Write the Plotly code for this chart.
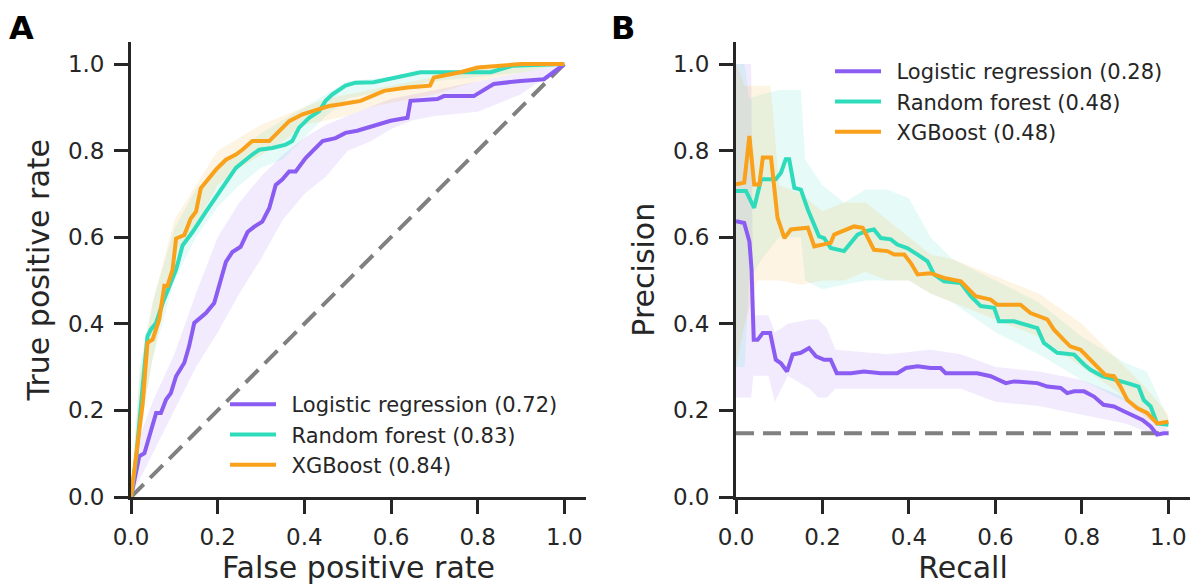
import plotly.graph_objects as go

# ---------------- Panel A: ROC curves ----------------
roc_lr_fpr = [0, 0.012, 0.019, 0.031, 0.042, 0.058, 0.069, 0.081, 0.092, 0.104, 0.123, 0.134, 0.146,
              0.173, 0.192, 0.204, 0.215, 0.219, 0.234, 0.253, 0.269, 0.284, 0.303, 0.319, 0.334,
              0.349, 0.365, 0.38, 0.403, 0.426, 0.442, 0.472, 0.495, 0.522, 0.561, 0.599, 0.638,
              0.645, 0.707, 0.722, 0.791, 0.837, 0.899, 0.953, 1.0]
roc_lr_tpr = [0, 0.063, 0.094, 0.101, 0.14, 0.194, 0.194, 0.225, 0.24, 0.279, 0.31, 0.348, 0.402,
              0.425, 0.448, 0.487, 0.525, 0.543, 0.566, 0.578, 0.612, 0.624, 0.636, 0.667, 0.721,
              0.733, 0.752, 0.752, 0.783, 0.806, 0.822, 0.829, 0.841, 0.846, 0.857, 0.869, 0.876,
              0.915, 0.919, 0.926, 0.926, 0.954, 0.961, 0.965, 1.0]

roc_rf_fpr = [0, 0.012, 0.027, 0.038, 0.046, 0.058, 0.073, 0.088, 0.104, 0.119, 0.142, 0.173, 0.211,
              0.242, 0.28, 0.296, 0.326, 0.357, 0.372, 0.388, 0.411, 0.434, 0.449, 0.465, 0.495,
              0.518, 0.56, 0.668, 0.714, 0.83, 0.88, 1.0]
roc_rf_tpr = [0, 0.09, 0.256, 0.371, 0.387, 0.402, 0.448, 0.488, 0.525, 0.581, 0.612, 0.659, 0.713,
              0.76, 0.791, 0.802, 0.806, 0.814, 0.822, 0.853, 0.876, 0.891, 0.915, 0.93, 0.95,
              0.957, 0.958, 0.981, 0.981, 0.981, 0.996, 1.0]

roc_xgb_fpr = [0, 0.012, 0.027, 0.038, 0.05, 0.065, 0.077, 0.084, 0.096, 0.104, 0.123, 0.138, 0.15,
               0.161, 0.177, 0.196, 0.219, 0.242, 0.257, 0.28, 0.319, 0.349, 0.365, 0.396, 0.419,
               0.457, 0.484, 0.53, 0.584, 0.638, 0.69, 0.699, 0.76, 0.8, 0.9, 1.0]
roc_xgb_tpr = [0, 0.094, 0.216, 0.356, 0.364, 0.41, 0.488, 0.487, 0.525, 0.597, 0.605, 0.643, 0.659,
               0.713, 0.733, 0.756, 0.779, 0.791, 0.802, 0.822, 0.822, 0.853, 0.868, 0.884, 0.891,
               0.903, 0.907, 0.915, 0.938, 0.946, 0.95, 0.969, 0.981, 0.992, 1.0, 1.0]

# confidence bands (ROC)
roc_band_x = [0, 0.02, 0.05, 0.1, 0.15, 0.2, 0.25, 0.3, 0.35, 0.4, 0.45, 0.5, 0.55, 0.6, 0.65, 0.7, 0.8, 0.9, 1.0]
roc_lr_lo = [0, 0.04, 0.1, 0.2, 0.3, 0.38, 0.47, 0.55, 0.64, 0.7, 0.74, 0.8, 0.82, 0.85, 0.87, 0.88, 0.89, 0.93, 1.0]
roc_lr_hi = [0, 0.14, 0.22, 0.33, 0.47, 0.6, 0.68, 0.74, 0.79, 0.83, 0.86, 0.88, 0.9, 0.92, 0.93, 0.94, 0.96, 0.98, 1.0]
roc_rf_lo = [0, 0.15, 0.32, 0.5, 0.6, 0.67, 0.72, 0.76, 0.78, 0.83, 0.88, 0.92, 0.93, 0.94, 0.95, 0.96, 0.97, 0.98, 1.0]
roc_rf_hi = [0, 0.3, 0.45, 0.62, 0.71, 0.76, 0.8, 0.84, 0.87, 0.9, 0.93, 0.96, 0.965, 0.97, 0.975, 0.98, 0.99, 1.0, 1.0]
roc_xgb_lo = [0, 0.15, 0.32, 0.55, 0.63, 0.72, 0.76, 0.79, 0.82, 0.86, 0.87, 0.88, 0.9, 0.91, 0.92, 0.93, 0.96, 0.98, 1.0]
roc_xgb_hi = [0, 0.28, 0.45, 0.64, 0.72, 0.8, 0.83, 0.86, 0.88, 0.9, 0.92, 0.93, 0.94, 0.95, 0.96, 0.97, 0.99, 1.0, 1.0]

chance_x = [0, 1]
chance_y = [0, 1]

# ---------------- Panel B: Precision-recall curves ----------------
pr_lr_rec = [0.0, 0.019, 0.031, 0.036, 0.041, 0.05, 0.062, 0.079, 0.092, 0.104, 0.118, 0.131, 0.15,
             0.169, 0.185, 0.204, 0.219, 0.233, 0.266, 0.296, 0.335, 0.373, 0.393, 0.42, 0.45,
             0.473, 0.485, 0.52, 0.558, 0.589, 0.624, 0.643, 0.697, 0.72, 0.751, 0.766, 0.782,
             0.805, 0.828, 0.85, 0.874, 0.897, 0.92, 0.94, 0.959, 0.974, 0.989, 1.0]
pr_lr_prec = [0.637, 0.633, 0.59, 0.525, 0.363, 0.363, 0.379, 0.379, 0.317, 0.309, 0.29, 0.329, 0.333,
              0.344, 0.325, 0.317, 0.317, 0.286, 0.286, 0.29, 0.286, 0.286, 0.298, 0.302, 0.298,
              0.298, 0.286, 0.286, 0.286, 0.279, 0.263, 0.267, 0.263, 0.255, 0.252, 0.24, 0.244,
              0.244, 0.232, 0.213, 0.209, 0.198, 0.186, 0.178, 0.163, 0.144, 0.147, 0.147]

pr_rf_rec = [0.0, 0.023, 0.042, 0.058, 0.092, 0.104, 0.115, 0.123, 0.135, 0.15, 0.166, 0.177, 0.192,
             0.204, 0.219, 0.25, 0.266, 0.281, 0.3, 0.319, 0.335, 0.358, 0.373, 0.396, 0.42, 0.443,
             0.458, 0.481, 0.52, 0.543, 0.566, 0.597, 0.608, 0.643, 0.697, 0.712, 0.743, 0.782,
             0.805, 0.82, 0.847, 0.881, 0.905, 0.931, 0.943, 0.959, 0.974, 1.0]
pr_rf_prec = [0.707, 0.707, 0.668, 0.734, 0.734, 0.749, 0.78, 0.78, 0.714, 0.71, 0.664, 0.637, 0.602,
              0.598, 0.575, 0.568, 0.587, 0.606, 0.614, 0.618, 0.598, 0.595, 0.583, 0.575, 0.56, 0.544,
              0.514, 0.498, 0.494, 0.464, 0.441, 0.437, 0.406, 0.406, 0.39, 0.356, 0.333, 0.329,
              0.306, 0.294, 0.279, 0.271, 0.263, 0.255, 0.224, 0.209, 0.17, 0.167]

pr_xgb_rec = [0.0, 0.019, 0.031, 0.042, 0.054, 0.062, 0.081, 0.096, 0.112, 0.127, 0.166, 0.181, 0.2,
              0.219, 0.227, 0.258, 0.273, 0.293, 0.319, 0.35, 0.366, 0.389, 0.404, 0.42, 0.45, 0.481,
              0.52, 0.535, 0.554, 0.589, 0.604, 0.658, 0.681, 0.72, 0.735, 0.758, 0.773, 0.797,
              0.812, 0.835, 0.854, 0.874, 0.889, 0.905, 0.928, 0.951, 0.974, 1.0]
pr_xgb_prec = [0.722, 0.726, 0.834, 0.722, 0.722, 0.784, 0.784, 0.645, 0.598, 0.618, 0.622, 0.579, 0.583,
               0.587, 0.606, 0.618, 0.625, 0.622, 0.571, 0.568, 0.56, 0.56, 0.541, 0.514, 0.517, 0.506,
               0.498, 0.483, 0.464, 0.456, 0.444, 0.444, 0.425, 0.41, 0.387, 0.363, 0.348, 0.34,
               0.325, 0.302, 0.282, 0.279, 0.255, 0.224, 0.205, 0.194, 0.17, 0.174]

# confidence bands (PR)
pr_lr_band_x = [0.0, 0.035, 0.04, 0.075, 0.09, 0.12, 0.17, 0.19, 0.21, 0.23, 0.35, 0.45, 0.52, 0.6, 0.7, 0.8, 0.9, 0.95, 1.0]
pr_lr_lo = [0.23, 0.23, 0.28, 0.28, 0.22, 0.28, 0.25, 0.23, 0.23, 0.25, 0.25, 0.25, 0.25, 0.22, 0.21, 0.19, 0.17, 0.15, 0.145]
pr_lr_hi = [1.0, 1.0, 0.42, 0.42, 0.38, 0.4, 0.41, 0.41, 0.39, 0.34, 0.33, 0.34, 0.33, 0.3, 0.29, 0.27, 0.23, 0.2, 0.155]

pr_rf_band_x = [0.0, 0.02, 0.03, 0.06, 0.1, 0.15, 0.16, 0.2, 0.25, 0.3, 0.35, 0.4, 0.45, 0.5, 0.6, 0.7, 0.8, 0.9, 0.95, 1.0]
pr_rf_lo = [0.3, 0.3, 0.5, 0.55, 0.6, 0.6, 0.5, 0.48, 0.49, 0.5, 0.5, 0.5, 0.47, 0.45, 0.38, 0.33, 0.27, 0.22, 0.2, 0.16]
pr_rf_hi = [1.0, 1.0, 0.92, 0.93, 0.94, 0.94, 0.78, 0.72, 0.68, 0.71, 0.71, 0.69, 0.6, 0.55, 0.5, 0.45, 0.37, 0.31, 0.29, 0.18]

pr_xgb_band_x = [0.0, 0.02, 0.05, 0.08, 0.1, 0.15, 0.2, 0.25, 0.3, 0.35, 0.4, 0.45, 0.5, 0.6, 0.7, 0.8, 0.9, 0.95, 1.0]
pr_xgb_lo = [0.3, 0.4, 0.5, 0.5, 0.5, 0.49, 0.5, 0.5, 0.52, 0.5, 0.5, 0.47, 0.45, 0.41, 0.37, 0.3, 0.23, 0.18, 0.16]
pr_xgb_hi = [1.0, 0.95, 0.95, 0.95, 0.72, 0.7, 0.66, 0.68, 0.68, 0.64, 0.6, 0.56, 0.55, 0.51, 0.47, 0.4, 0.3, 0.25, 0.19]

baseline_x = [0, 1]
baseline_y = [0.147, 0.147]

# ---------------- labels ----------------
roc_names = ["Logistic regression (0.72)", "Random forest (0.83)", "XGBoost (0.84)"]
pr_names = ["Logistic regression (0.28)", "Random forest (0.48)", "XGBoost (0.48)"]
tick_vals = [0, 0.2, 0.4, 0.6, 0.8, 1.0]
tick_text = ["0.0", "0.2", "0.4", "0.6", "0.8", "1.0"]

PURPLE = "#8B5CF2"
TEAL = "#2EDBBA"
ORANGE = "#F9A11B"
GRAY = "#808080"
TXT = "#262626"
FONT = "DejaVu Sans"
GAP = "\u2002"  # space between legend line sample and label


def rgba(hex_color, a):
    h = hex_color.lstrip("#")
    return "rgba(%d,%d,%d,%s)" % (int(h[0:2], 16), int(h[2:4], 16), int(h[4:6], 16), a)


fig = go.Figure()


def band(xs, lo, hi, color, xa, ya):
    fig.add_trace(go.Scatter(x=list(xs) + list(xs)[::-1], y=list(lo) + list(hi)[::-1],
                             fill="toself", fillcolor=rgba(color, 0.12), line=dict(width=0),
                             mode="lines", hoverinfo="skip", showlegend=False, xaxis=xa, yaxis=ya))


# Panel A
fig.add_trace(go.Scatter(x=chance_x, y=chance_y, mode="lines",
                         line=dict(color=GRAY, width=4, dash="18px,9px"), showlegend=False,
                         xaxis="x", yaxis="y"))
band(roc_band_x, roc_lr_lo, roc_lr_hi, PURPLE, "x", "y")
band(roc_band_x, roc_rf_lo, roc_rf_hi, TEAL, "x", "y")
band(roc_band_x, roc_xgb_lo, roc_xgb_hi, ORANGE, "x", "y")
for xs, ys, col, nm in [(roc_lr_fpr, roc_lr_tpr, PURPLE, roc_names[0]),
                        (roc_rf_fpr, roc_rf_tpr, TEAL, roc_names[1]),
                        (roc_xgb_fpr, roc_xgb_tpr, ORANGE, roc_names[2])]:
    fig.add_trace(go.Scatter(x=xs, y=ys, mode="lines", name=GAP + nm, line=dict(color=col, width=4),
                             xaxis="x", yaxis="y", legend="legend"))

# Panel B
fig.add_trace(go.Scatter(x=baseline_x, y=baseline_y, mode="lines",
                         line=dict(color=GRAY, width=4, dash="18px,9px"), showlegend=False,
                         xaxis="x2", yaxis="y2"))
band(pr_lr_band_x, pr_lr_lo, pr_lr_hi, PURPLE, "x2", "y2")
band(pr_rf_band_x, pr_rf_lo, pr_rf_hi, TEAL, "x2", "y2")
band(pr_xgb_band_x, pr_xgb_lo, pr_xgb_hi, ORANGE, "x2", "y2")
for xs, ys, col, nm in [(pr_lr_rec, pr_lr_prec, PURPLE, pr_names[0]),
                        (pr_rf_rec, pr_rf_prec, TEAL, pr_names[1]),
                        (pr_xgb_rec, pr_xgb_prec, ORANGE, pr_names[2])]:
    fig.add_trace(go.Scatter(x=xs, y=ys, mode="lines", name=GAP + nm, line=dict(color=col, width=4),
                             xaxis="x2", yaxis="y2", legend="legend2"))

# the page body has an 8px default margin: the figure occupies window px 8..1203 / 8..585
OFF = 8
W, H = 1203 - OFF, 585 - OFF


def fx(px):
    return (px - OFF) / W


def fy(py):
    return 1 - (py - OFF) / H


ydom = [fy(497), fy(42.4)]

axis_common = dict(range=[0, 1.05], tickvals=tick_vals, ticktext=tick_text, showgrid=False,
                   zeroline=False, showline=True, linecolor=TXT, linewidth=2.8, ticks="outside",
                   ticklen=14, tickwidth=2.8, tickcolor=TXT, automargin=False,
                   tickfont=dict(family=FONT, size=23, color=TXT), fixedrange=True)
title_font = dict(size=30, family=FONT, color=TXT)

fig.update_layout(
    width=W, height=H, margin=dict(l=0, r=0, t=0, b=0, autoexpand=False),
    paper_bgcolor="white", plot_bgcolor="white",
    font=dict(family=FONT, color=TXT),
    xaxis=dict(domain=[fx(131), fx(586)], anchor="y", ticklabelstandoff=3,
               title=dict(text="False positive rate", font=title_font, standoff=13),
               **axis_common),
    yaxis=dict(domain=ydom, anchor="x", ticklabelstandoff=5,
               title=dict(text="True positive rate", font=title_font, standoff=10),
               **axis_common),
    xaxis2=dict(domain=[fx(736), fx(1190)], anchor="y2", ticklabelstandoff=3,
                title=dict(text="Recall", font=title_font, standoff=13),
                **axis_common),
    yaxis2=dict(domain=ydom, anchor="x2", ticklabelstandoff=5,
                title=dict(text="Precision", font=title_font, standoff=10),
                **axis_common),
    legend=dict(x=fx(225), y=fy(384), xanchor="left", yanchor="top",
                bgcolor="rgba(0,0,0,0)", font=dict(family=FONT, size=21, color=TXT),
                itemwidth=46, tracegroupgap=0),
    legend2=dict(x=fx(830), y=fy(51), xanchor="left", yanchor="top",
                 bgcolor="rgba(0,0,0,0)", font=dict(family=FONT, size=21, color=TXT),
                 itemwidth=46, tracegroupgap=0),
    annotations=[
        dict(text="<b>A</b>", x=fx(8), y=1, xref="paper", yref="paper",
             xanchor="left", yanchor="top", showarrow=False, borderpad=0,
             font=dict(family=FONT, size=32, color="black")),
        dict(text="<b>B</b>", x=fx(610), y=1, xref="paper", yref="paper",
             xanchor="left", yanchor="top", showarrow=False, borderpad=0,
             font=dict(family=FONT, size=32, color="black")),
    ],
)

fig.write_html("out.html")
